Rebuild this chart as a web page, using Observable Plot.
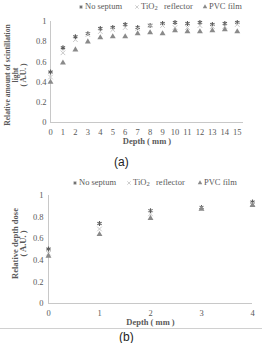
<!DOCTYPE html>
<html><head><meta charset="utf-8">
<script src="https://cdn.jsdelivr.net/npm/d3@7"></script>
<script src="https://cdn.jsdelivr.net/npm/@observablehq/plot@0.6"></script>
<style>
body{margin:0;background:#fff;font-family:"Liberation Serif",serif;}
#wrap{position:relative;width:262px;height:343px;overflow:hidden;background:#fff;}
.abs{position:absolute;}
.leg{position:absolute;font-size:8.5px;color:#595959;white-space:nowrap;line-height:10px;font-family:"Liberation Serif",serif;}
.leg sub{font-size:6.5px;vertical-align:-1px;line-height:0;}
.cap{position:absolute;font-family:"Liberation Sans",sans-serif;font-size:12px;color:#222;}
</style></head><body><div id="wrap"></div>
<script>
// ---- data ----
const seriesNames = ["No septum", "TiO2 reflector", "PVC film"];
const yTicks = [0, 0.2, 0.4, 0.6, 0.8, 1];

const depthA = [0, 1, 2, 3, 4, 5, 6, 7, 8, 9, 10, 11, 12, 13, 14, 15];
const noSeptumA = [0.50, 0.74, 0.85, 0.88, 0.93, 0.94, 0.97, 0.94, 0.96, 0.98, 0.99, 0.98, 0.99, 0.97, 0.98, 0.99];
const tio2A     = [0.45, 0.69, 0.82, 0.87, 0.90, 0.92, 0.94, 0.93, 0.96, 0.96, 0.94, 0.94, 0.96, 0.95, 0.95, 0.97];
const pvcA      = [0.40, 0.59, 0.72, 0.80, 0.84, 0.85, 0.85, 0.88, 0.89, 0.88, 0.91, 0.90, 0.90, 0.91, 0.92, 0.90];

const depthB = [0, 1, 2, 3, 4];
const noSeptumB = [0.505, 0.74, 0.86, 0.89, 0.94];
const tio2B     = [0.465, 0.69, 0.83, 0.88, 0.925];
const pvcB      = [0.44, 0.64, 0.79, 0.875, 0.91];

const ticksA = depthA;
const ticksB = depthB;

// ---- styling ----
const symbols = ["asterisk", "times", "triangle"];
const d3symbols = [d3.symbolAsterisk, d3.symbolTimes, d3.symbolTriangle];
const markStyle = [
  {stroke: "#5e5e5e", fill: "none", strokeWidth: 1.1, r: 2.3},
  {stroke: "#c8c8c8", fill: "none", strokeWidth: 1, r: 2.2},
  {stroke: "none", fill: "#8a8a8a", r: 2.2}
];
const wrap = document.getElementById("wrap");

function rowsOf(depth, vals) { return depth.map((d, i) => ({depth: d, value: vals[i]})); }

function panel(cfg) {
  const marks = [
    Plot.ruleY([0], {stroke: "#c8c8c8", strokeWidth: 1}),
    Plot.ruleX([0], {stroke: "#c8c8c8", strokeWidth: 1}),
    Plot.axisX({ticks: cfg.xTicks, tickSize: 0, tickPadding: 6, label: null, tickFormat: d => String(d)}),
    Plot.axisY({ticks: yTicks, tickSize: 0, tickPadding: cfg.yPad, label: null, tickFormat: d => String(d)})
  ];
  cfg.series.forEach((vals, i) => {
    marks.push(Plot.dot(rowsOf(cfg.depth, vals), {x: "depth", y: "value", symbol: () => symbols[i], ...markStyle[i]}));
  });
  marks.push(Plot.text(["Depth ( mm )"], {frameAnchor: "bottom", dy: cfg.xlabDy, fontWeight: "bold", fontSize: 8.5, fill: "#595959"}));
  marks.push(Plot.text([cfg.ylabel], {frameAnchor: "left", textAnchor: "middle", lineAnchor: "middle", rotate: -90, dx: cfg.ylabDx, dy: cfg.ylabDy, fontWeight: "bold", fontSize: cfg.ylabSize, lineHeight: cfg.ylabLH, fill: "#595959"}));
  const svg = Plot.plot({
    width: 262, height: cfg.height,
    marginTop: cfg.mt, marginBottom: cfg.mb, marginLeft: cfg.ml, marginRight: cfg.mr,
    style: {fontFamily: "Liberation Serif", fontSize: "8.5px", color: "#595959", background: "transparent", overflow: "visible"},
    x: {domain: cfg.xDomain},
    y: {domain: [0, 1]},
    symbol: {domain: symbols, range: symbols},
    marks
  });
  svg.style.position = "absolute";
  svg.style.left = "0px";
  svg.style.top = cfg.top + "px";
  wrap.appendChild(svg);
}

function legend(top, items) {
  items.forEach((it, i) => {
    const ns = "http://www.w3.org/2000/svg";
    const s = document.createElementNS(ns, "svg");
    s.setAttribute("width", 8); s.setAttribute("height", 8);
    s.style.position = "absolute"; s.style.left = (it.mx - 4) + "px"; s.style.top = (top - 4) + "px";
    const p = document.createElementNS(ns, "path");
    p.setAttribute("transform", "translate(4,4)");
    const st = markStyle[i];
    p.setAttribute("d", d3.symbol(d3symbols[i], 9)());
    p.setAttribute("fill", st.fill); p.setAttribute("stroke", st.stroke);
    if (st.strokeWidth) p.setAttribute("stroke-width", 0.9);
    s.appendChild(p);
    wrap.appendChild(s);
    const t = document.createElement("div");
    t.className = "leg";
    t.style.left = it.tx + "px"; t.style.top = (top - 6) + "px";
    t.innerHTML = i === 1 ? "TiO<sub>2</sub>&nbsp;&nbsp;&nbsp;reflector" : seriesNames[i];
    wrap.appendChild(t);
  });
}

// panel (a)
legend(7, [{mx: 81, tx: 85}, {mx: 137, tx: 141}, {mx: 205, tx: 209}]);
panel({
  top: 12, height: 140, mt: 9, mb: 30, ml: 50, mr: 19,
  xDomain: [0, 15.5], xTicks: ticksA, depth: depthA,
  series: [noSeptumA, tio2A, pvcA], yPad: 4,
  xlabDy: 21, ylabel: "Relative amount of scintillation\nlight\n( A.U. )",
  ylabDx: -35, ylabDy: 3, ylabSize: 7.6, ylabLH: 1.05
});
const capA = document.createElement("div");
capA.className = "cap"; capA.textContent = "(a)";
capA.style.left = "114px"; capA.style.top = "155px";
wrap.appendChild(capA);

// panel (b)
legend(183, [{mx: 75, tx: 79}, {mx: 129, tx: 133}, {mx: 200, tx: 204}]);
panel({
  top: 188, height: 144, mt: 7, mb: 29, ml: 48, mr: 10,
  xDomain: [0, 4], xTicks: ticksB, depth: depthB,
  series: [noSeptumB, tio2B, pvcB], yPad: 5,
  xlabDy: 21, ylabel: "Relative depth dose\n( A.U. )",
  ylabDx: -29, ylabDy: -6, ylabSize: 8.5, ylabLH: 0.95
});
const line = document.createElement("div");
line.className = "abs";
line.style.cssText = "left:0;top:328px;width:262px;height:1px;background:#d0d0d0;";
wrap.appendChild(line);
const capB = document.createElement("div");
capB.className = "cap"; capB.textContent = "(b)";
capB.style.left = "119px"; capB.style.top = "330px";
wrap.appendChild(capB);
</script>
</body></html>
